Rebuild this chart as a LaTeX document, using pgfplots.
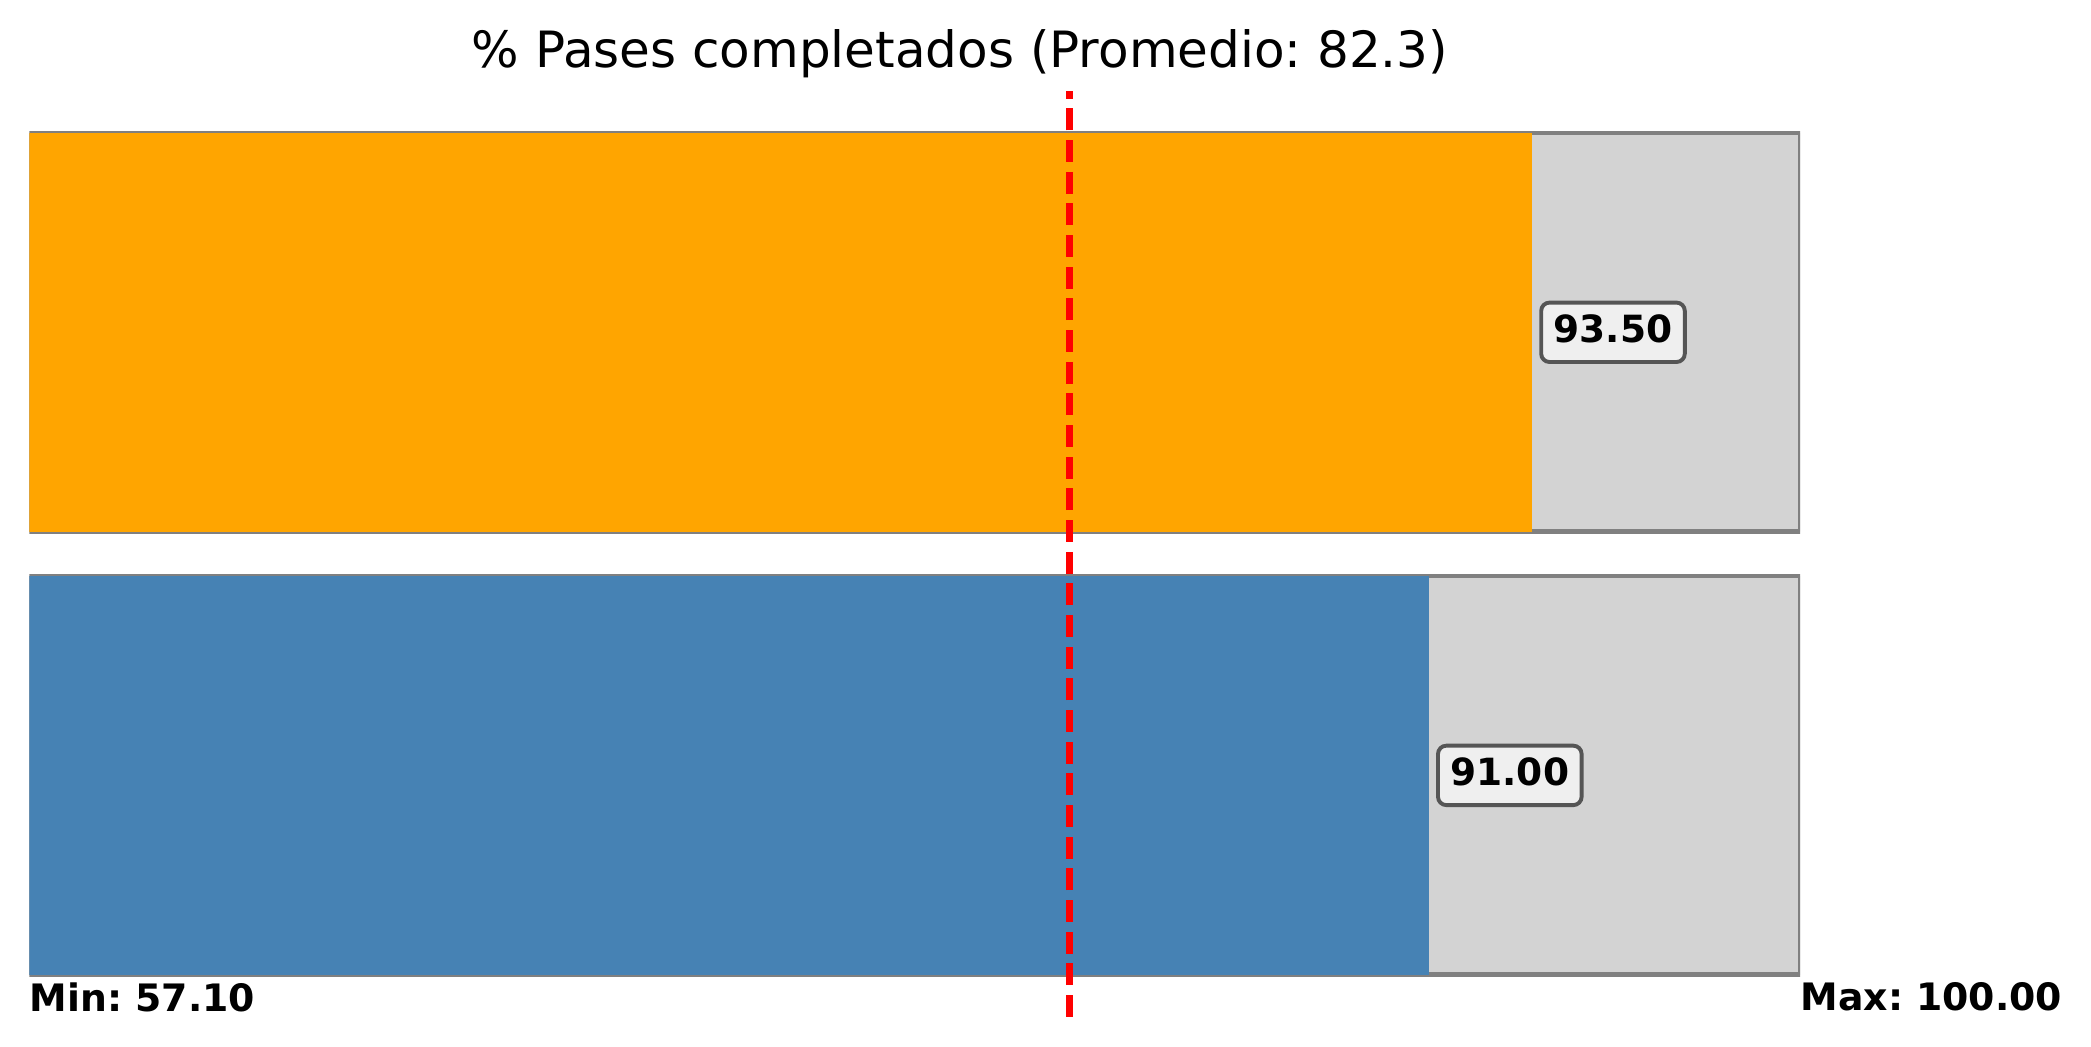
\documentclass[border=0pt]{standalone}
\usepackage{fontspec}
\setmainfont{DejaVu Sans}
\usepackage{pgfplots}
\pgfplotsset{compat=1.18}
\frenchspacing

\definecolor{barorange}{HTML}{FFA500}
\definecolor{barblue}{HTML}{4682B4}
\definecolor{bglight}{HTML}{D3D3D3}
\definecolor{bgedge}{HTML}{808080}
\definecolor{boxedge}{HTML}{555555}
\definecolor{boxfill}{HTML}{EFEFEF}

\begin{document}
\begin{tikzpicture}
\path[use as bounding box] (0,0) rectangle (752.8pt,376.9pt);

\node[anchor=base, font=\fontsize{18}{21}\selectfont] at (345.6pt,352.5pt)
  {\% Pases completados (Promedio: 82.3)};

\begin{axis}[
    at={(10.55pt,10.8pt)},
    anchor=south west,
    scale only axis,
    width=637.5pt,
    height=333.4pt,
    xmin=57.1, xmax=100,
    ymin=-0.545, ymax=1.545,
    hide axis,
    clip mode=individual,
    bar width=0.9,
    bar shift=0pt,
]
% fondo gris (rango completo)
\addplot[xbar, fill=bglight, draw=bgedge, line width=1.7pt] coordinates {
    (100,0)
    (100,1)
};
% valores
\addplot[xbar, fill=barorange, draw=none] coordinates {(93.5,1)};
\addplot[xbar, fill=barblue, draw=none] coordinates {(91.0,0)};
% promedio
\addplot[red, line width=2.4pt, dash pattern=on 7.9pt off 3.5pt] coordinates {
    (82.3,-0.545)
    (82.3,1.545)
};

\coordinate (v1) at (axis cs:93.5,1);
\coordinate (v0) at (axis cs:91.0,0);
\coordinate (mn) at (axis cs:57.1,-0.5);
\coordinate (mx) at (axis cs:100,-0.5);
\end{axis}

\tikzset{vlab/.style={anchor=west, xshift=2.7pt, draw=boxedge, fill=boxfill,
    line width=1.4pt, rounded corners=3pt, inner xsep=4.5pt, inner ysep=4pt,
    text height=10.2pt, text depth=3.2pt,
    font=\fontsize{13.5}{16}\selectfont\bfseries}}
\node[vlab] at (v1) {93.50};
\node[vlab] at (v0) {91.00};

\node[anchor=west, inner sep=0pt, font=\fontsize{13.6}{16}\selectfont\bfseries] at (mn) {Min: 57.10};
\node[anchor=west, inner sep=0pt, font=\fontsize{13.6}{16}\selectfont\bfseries] at (mx) {Max: 100.00};
\end{tikzpicture}
\end{document}
